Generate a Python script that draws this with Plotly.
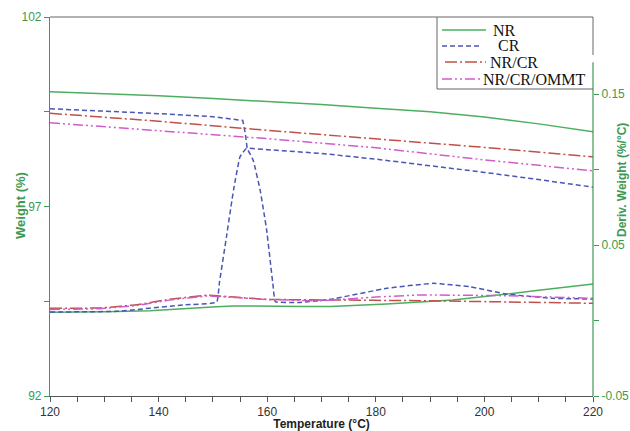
import plotly.graph_objects as go

# ---------------- data ----------------
# Weight curves (left axis, %)
nr_w_t = [120, 130, 140, 150, 160, 170, 180, 190, 200, 210, 220]
nr_w = [100.03, 99.98, 99.92, 99.85, 99.77, 99.69, 99.59, 99.50, 99.36, 99.18, 98.97]

cr_w_t = [120, 130, 140, 150, 155.5, 156.0, 156.3, 160, 170, 180, 190, 200, 210, 220]
cr_w = [99.58, 99.52, 99.45, 99.37, 99.27, 98.90, 98.54, 98.50, 98.40, 98.25, 98.08, 97.90, 97.71, 97.51]

nrcr_w_t = [120, 140, 160, 180, 200, 220]
nrcr_w = [99.46, 99.25, 99.01, 98.79, 98.56, 98.31]

ommt_w_t = [120, 140, 160, 180, 200, 220]
ommt_w = [99.21, 99.00, 98.79, 98.55, 98.23, 97.94]

# Derivative curves (right axis, %/°C)
nr_d_t = [120, 130, 138.4, 147.6, 153.7, 162, 171.6, 182, 194.2, 204.2, 212, 220]
nr_d = [0.0054, 0.0058, 0.0065, 0.0085, 0.0096, 0.0094, 0.0093, 0.0109, 0.0136, 0.0175, 0.0208, 0.0242]

cr_d_t = [120, 132.3, 144.5, 150.7, 151.2, 152.5, 153.8, 155.0, 156.2, 157.4, 158.7, 159.9, 161.1, 161.5,
          166, 171.6, 182, 190.5, 197.3, 204.2, 212.6, 220]
cr_d = [0.0056, 0.0061, 0.0103, 0.0121, 0.0250, 0.0555, 0.0864, 0.1085, 0.1140, 0.1063, 0.0864, 0.0599, 0.0224, 0.0125,
        0.0120, 0.0140, 0.0213, 0.0246, 0.0224, 0.0174, 0.0147, 0.0142]

nrcr_d_t = [120, 129.2, 136, 142, 148.9, 154, 160, 171.6, 188.1, 204.2, 220]
nrcr_d = [0.0081, 0.0083, 0.0105, 0.0140, 0.0167, 0.0155, 0.0140, 0.0136, 0.0131, 0.0123, 0.0114]

ommt_d_t = [120, 129.2, 136, 142, 148.9, 154, 160, 169.7, 180, 188.1, 204.2, 220]
ommt_d = [0.0073, 0.0078, 0.0100, 0.0135, 0.0162, 0.0152, 0.0139, 0.0131, 0.0155, 0.0169, 0.0164, 0.0147]

names = ["NR", "CR", "NR/CR", "NR/CR/OMMT"]
colors = ["#4caf5f", "#4a55b5", "#c0504a", "#d25ccb"]
dashes = ["solid", "5px,3px", "12px,3px,2px,3px", "10px,3px,2px,3px,2px,3px"]

x_tickvals = list(range(120, 221, 5))
x_ticktext = [str(v) if v % 20 == 0 else "" for v in x_tickvals]
y_tickvals = [92, 94.5, 97, 99.5, 102]
y_ticktext = ["92", "", "97", "", "102"]
y2_tickvals = [-0.05, 0.0, 0.05, 0.10, 0.15]
y2_ticktext = ["-0.05", "", "0.05", "", "0.15"]

weights = [(nr_w_t, nr_w), (cr_w_t, cr_w), (nrcr_w_t, nrcr_w), (ommt_w_t, ommt_w)]
derivs = [(nr_d_t, nr_d), (cr_d_t, cr_d), (nrcr_d_t, nrcr_d), (ommt_d_t, ommt_d)]

GREEN = "#3d9a52"
L, R, T, B = 50, 37, 17, 35
W, H = 630, 431
PW, PH = W - L - R, H - T - B


def px(xp):
    return (xp - L) / PW


def py(yp):
    return (H - B - yp) / PH


fig = go.Figure()
for i, name in enumerate(names):
    t, w = weights[i]
    fig.add_trace(go.Scatter(x=t, y=w, mode="lines", name=name, showlegend=False,
                             line=dict(color=colors[i], width=1.5, dash=dashes[i]),
                             yaxis="y"))
for i, name in enumerate(names):
    t, d = derivs[i]
    fig.add_trace(go.Scatter(x=t, y=d, mode="lines", name=name, showlegend=False,
                             line=dict(color=colors[i], width=1.5, dash=dashes[i], shape="spline", smoothing=0.3),
                             yaxis="y2"))

fig.update_layout(
    width=W, height=H,
    margin=dict(l=L, r=R, t=T, b=B),
    paper_bgcolor="white", plot_bgcolor="white",
    font=dict(family="Liberation Sans, Arial, sans-serif", size=12, color="#333"),
    xaxis=dict(range=[120, 220], tickvals=x_tickvals, ticktext=x_ticktext, automargin=False,
               ticks="outside", ticklen=5, tickcolor="#555", showline=True, linecolor="#555",
               linewidth=1, showgrid=False, zeroline=False,
               tickfont=dict(size=12, color="#333"),
               title=dict(text="<b>Temperature (°C)</b>", font=dict(size=12, color="#222"), standoff=4)),
    yaxis=dict(range=[92, 102], tickvals=y_tickvals, ticktext=y_ticktext, automargin=False,
               ticks="outside", ticklen=5, tickcolor=GREEN, showline=True, linecolor=GREEN,
               linewidth=1.2, showgrid=False, zeroline=False,
               tickfont=dict(size=12, color=GREEN)),
    yaxis2=dict(range=[-0.05, 0.201], tickvals=y2_tickvals, ticktext=y2_ticktext, automargin=False,
                overlaying="y", side="right", ticks="outside", ticklen=5, tickcolor=GREEN,
                showline=False, showgrid=False, zeroline=False,
                tickfont=dict(size=12, color=GREEN)),
    showlegend=False,
)

# frame lines
fig.add_shape(type="line", xref="paper", yref="paper", x0=0, x1=1, y0=1, y1=1,
              line=dict(color="#666", width=1))
fig.add_shape(type="line", xref="paper", yref="paper", x0=1, x1=1, y0=1, y1=py(55),
              line=dict(color="#666", width=1))
fig.add_shape(type="line", xref="paper", yref="y2", x0=1, x1=1, y0=-0.05, y1=0.171,
              line=dict(color=GREEN, width=1.2))

# legend box (manual, to match the compact layout)
fig.add_shape(type="line", xref="paper", yref="paper", x0=px(437), x1=px(437), y0=1, y1=py(89),
              line=dict(color="#666", width=1))
fig.add_shape(type="line", xref="paper", yref="paper", x0=px(437), x1=1, y0=py(89), y1=py(89),
              line=dict(color="#666", width=1))
leg_y = [30, 46, 62, 79]
leg_line_x = [(442, 486), (442, 481), (445, 486), (442, 481)]
leg_text_x = [491, 496, 488, 481]
for i, name in enumerate(names):
    x0, x1 = leg_line_x[i]
    fig.add_shape(type="line", xref="paper", yref="paper", x0=px(x0), x1=px(x1),
                  y0=py(leg_y[i]), y1=py(leg_y[i]),
                  line=dict(color=colors[i], width=1.5, dash=dashes[i]))
    fig.add_annotation(text=name, xref="paper", yref="paper", x=px(leg_text_x[i]), y=py(leg_y[i]),
                       xanchor="left", yanchor="middle", showarrow=False,
                       font=dict(family="Liberation Serif, Times New Roman, serif", size=16, color="#111"))

fig.add_annotation(text="<b>Weight (%)</b>", xref="paper", yref="paper",
                   x=px(20), y=py(206), xanchor="center", yanchor="middle",
                   textangle=-90, showarrow=False, font=dict(size=13, color=GREEN))
fig.add_annotation(text="<b>Deriv. Weight (%/°C)</b>", xref="paper", yref="paper",
                   x=px(622), y=py(180), xanchor="center", yanchor="middle",
                   textangle=-90, showarrow=False, font=dict(size=12, color=GREEN))

fig.write_html("out.html", config={"displayModeBar": False},
               post_script="document.body.style.margin='0px';document.body.style.overflow='hidden';")
